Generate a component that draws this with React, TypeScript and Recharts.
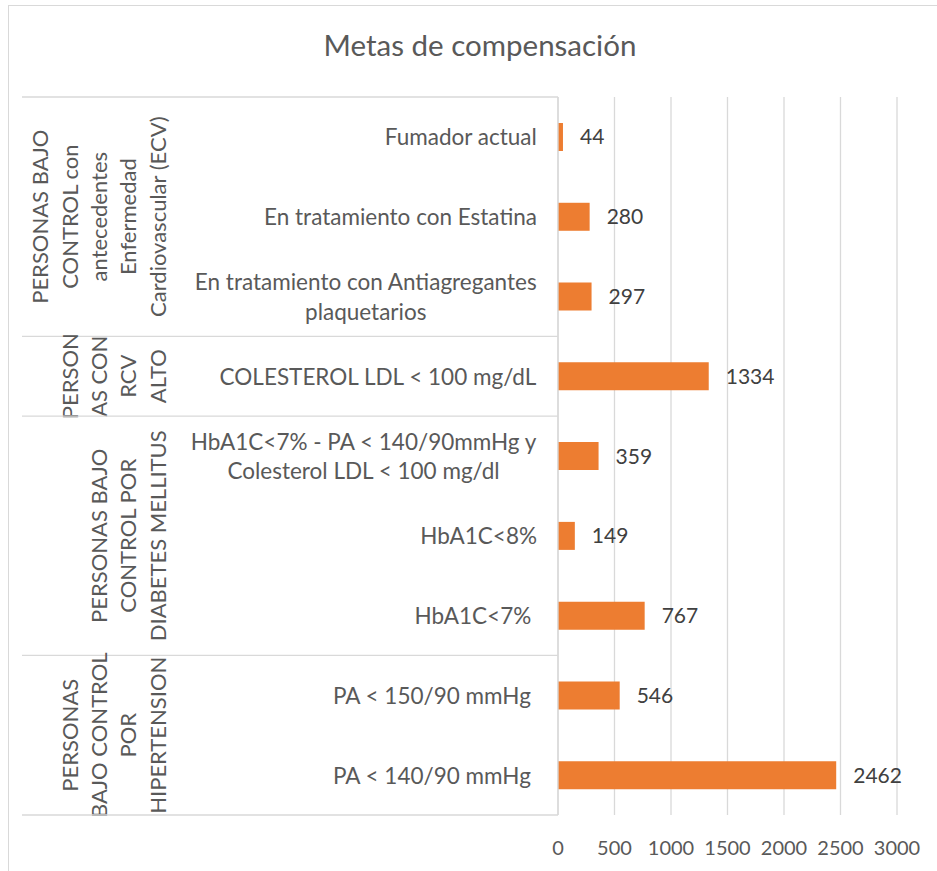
import React from "react";
import { BarChart, Bar, XAxis, YAxis, CartesianGrid, LabelList } from "recharts";

// categories top to bottom, "\n" splits a label over two lines
const categories = [
  "Fumador actual",
  "En tratamiento con Estatina",
  "En tratamiento con Antiagregantes\nplaquetarios",
  "COLESTEROL LDL < 100 mg/dL",
  "HbA1C<7% - PA < 140/90mmHg y\nColesterol LDL < 100 mg/dl",
  "HbA1C<8%",
  "HbA1C<7% ",
  "PA < 150/90 mmHg ",
  "PA < 140/90 mmHg ",
];
const values = [44, 280, 297, 1334, 359, 149, 767, 546, 2462];

const groupLabels = [
  ["PERSONAS BAJO", "CONTROL con", "antecedentes", "Enfermedad", "Cardiovascular (ECV)"],
  ["PERSON", "AS CON", "RCV", "ALTO"],
  ["PERSONAS BAJO", "CONTROL POR", "DIABETES MELLITUS"],
  ["PERSONAS", "BAJO CONTROL", "POR", "HIPERTENSION"],
];
const groupSizes = [3, 1, 3, 2];

const xTicks = [0, 500, 1000, 1500, 2000, 2500, 3000];

const W = 937;
const H = 871;
const TOP = 97;
const X_AXIS_H = 56;
const AXIS_X = 558; // y axis width, the plot starts here
const TABLE_LEFT = 22;
const PLOT_H = H - TOP - X_AXIS_H;
const FONT = "Lato, 'Open Sans', sans-serif";
const TEXT = "#595959";
const GRID = "#d9d9d9";
const LINE_GAP = 29.3;
const LABEL_SIZE = 22.5;

const data = categories.map((name, i) => ({ name, value: values[i] }));

const groupStart: Record<number, number> = {};
let acc = 0;
groupSizes.forEach((n, g) => {
  groupStart[acc] = g;
  acc += n;
});

let ctx: CanvasRenderingContext2D | null = null;
function measure(text: string, size: number) {
  if (!ctx) ctx = document.createElement("canvas").getContext("2d");
  if (!ctx) return text.length * size * 0.5;
  ctx.font = `${size}px Lato`;
  return ctx.measureText(text).width;
}

function CategoryTick(props: any) {
  const { y, index, payload } = props;
  const step = PLOT_H / categories.length;
  const size = LABEL_SIZE;
  const lines = String(payload.value).split("\n");
  const maxW = Math.max(...lines.map((l) => measure(l, size)));
  const cx = AXIS_X - 21 - maxW / 2;

  const g = groupStart[index];
  let group = null;
  if (g !== undefined) {
    const top = y - step / 2;
    const cy = top + (groupSizes[g] * step) / 2;
    const gl = groupLabels[g];
    group = (
      <g>
        <line x1={TABLE_LEFT} x2={AXIS_X} y1={top} y2={top} stroke={GRID} strokeWidth={1.3} />
        {gl.map((t, i) => (
          <text
            key={i}
            transform={`translate(${157 - (gl.length - 1 - i) * LINE_GAP},${cy}) rotate(-90)`}
            textAnchor="middle"
            dominantBaseline="central"
            fill={TEXT}
            fontSize={22}
            fontFamily={FONT}
          >
            {t}
          </text>
        ))}
      </g>
    );
  }

  return (
    <g>
      {group}
      {index === categories.length - 1 && (
        <line x1={TABLE_LEFT} x2={AXIS_X} y1={y + step / 2} y2={y + step / 2} stroke={GRID} strokeWidth={1.3} />
      )}
      {lines.map((l, i) => (
        <text
          key={i}
          x={cx}
          y={y + (i - (lines.length - 1) / 2) * LINE_GAP}
          textAnchor="middle"
          dominantBaseline="central"
          fill={TEXT}
          fontSize={size}
          fontFamily={FONT}
          style={{ whiteSpace: "pre" }}
        >
          {l}
        </text>
      ))}
    </g>
  );
}

export default function App() {
  return (
    <div style={{ position: "absolute", left: 0, top: 0, width: W, height: H, overflow: "hidden", background: "#fff" }}>
      <div
        style={{
          position: "absolute",
          left: 8,
          top: 5,
          width: W,
          height: H,
          border: `1px solid ${GRID}`,
          boxSizing: "border-box",
        }}
      />
      <div
        style={{
          position: "absolute",
          left: 0,
          width: 960,
          top: 27,
          textAlign: "center",
          fontFamily: FONT,
          fontSize: 29.5,
          color: TEXT,
        }}
      >
        Metas de compensación
      </div>
      <div style={{ position: "absolute", left: 0, top: 0 }}>
        <BarChart
          width={W}
          height={H}
          data={data}
          layout="vertical"
          margin={{ top: TOP, right: 40, bottom: 0, left: 0 }}
        >
          <CartesianGrid horizontal={false} stroke={GRID} strokeWidth={1.3} />
          <XAxis
            type="number"
            domain={[0, 3000]}
            ticks={xTicks}
            axisLine={false}
            tickLine={false}
            height={X_AXIS_H}
            tickMargin={20}
            tick={{ fill: TEXT, fontSize: 20, fontFamily: FONT }}
          />
          <YAxis
            type="category"
            dataKey="name"
            width={AXIS_X}
            interval={0}
            tickLine={false}
            axisLine={{ stroke: GRID, strokeWidth: 1.3 }}
            tick={<CategoryTick />}
          />
          <Bar dataKey="value" fill="#ED7D31" barSize={28} isAnimationActive={false}>
            <LabelList
              dataKey="value"
              position="right"
              offset={17}
              fill="#404040"
              fontSize={21}
              fontFamily={FONT}
            />
          </Bar>
        </BarChart>
      </div>
    </div>
  );
}
